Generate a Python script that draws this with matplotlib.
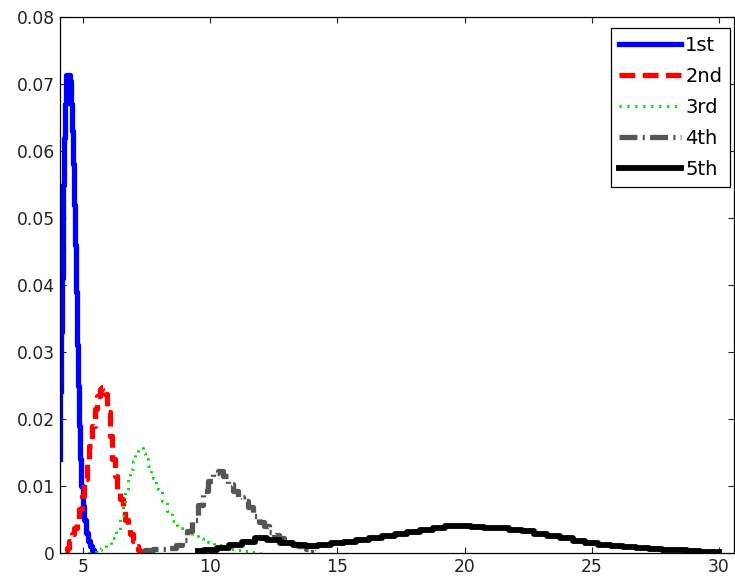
#!/usr/bin/env python3
"""Recreate the order-statistics density plot (1st..5th) in MATLAB look."""

import matplotlib

matplotlib.use("Agg")
import matplotlib.pyplot as plt

# --- data ---
x_1st = [4.09, 4.12, 4.15, 4.18, 4.21, 4.24, 4.27, 4.30, 4.34, 4.40, 4.46, 4.50,
         4.54, 4.58, 4.62, 4.66, 4.70, 4.74, 4.77, 4.80, 4.84, 4.89, 4.95, 5.01,
         5.07, 5.15, 5.23, 5.30, 5.38, 5.45]
y_1st = [0.014, 0.024, 0.033, 0.041, 0.048, 0.055, 0.062, 0.067, 0.0713, 0.0713,
         0.0713, 0.0705, 0.067, 0.063, 0.058, 0.052, 0.046, 0.039, 0.031, 0.025,
         0.019, 0.014, 0.010, 0.007, 0.005, 0.003, 0.0018, 0.001, 0.0004, 0.0]

x_2nd = [4.30, 4.40, 4.50, 4.60, 4.70, 4.80, 4.90, 5.00, 5.10, 5.20, 5.30, 5.40,
         5.50, 5.60, 5.70, 5.80, 5.90, 6.00, 6.10, 6.20, 6.30, 6.40, 6.50, 6.60,
         6.70, 6.80, 6.90, 7.00, 7.10, 7.20, 7.30, 7.40]
y_2nd = [0.0003, 0.0008, 0.0018, 0.0028, 0.0038, 0.0048, 0.0065, 0.0085, 0.011,
         0.0135, 0.016, 0.019, 0.0215, 0.0235, 0.0245, 0.0248, 0.0238, 0.021,
         0.0175, 0.014, 0.0115, 0.0095, 0.008, 0.0065, 0.005, 0.0038, 0.0028,
         0.0018, 0.001, 0.0005, 0.0002, 0.0]

x_3rd = [5.2, 5.4, 5.6, 5.8, 6.0, 6.2, 6.4, 6.5, 6.6, 6.7, 6.8, 6.9, 7.0, 7.1,
         7.2, 7.3, 7.4, 7.5, 7.6, 7.7, 7.8, 7.9, 8.0, 8.2, 8.4, 8.6, 8.8, 9.0,
         9.2, 9.4, 9.6, 9.8, 10.0, 10.3, 10.6, 10.9, 11.2, 11.5, 11.8, 12.1]
y_3rd = [0.0, 0.0002, 0.0005, 0.0008, 0.0012, 0.0022, 0.0035, 0.0055, 0.0075,
         0.0092, 0.011, 0.0125, 0.0138, 0.0148, 0.0155, 0.0157, 0.015, 0.014,
         0.013, 0.012, 0.0112, 0.0103, 0.0095, 0.0078, 0.0062, 0.0048, 0.0038,
         0.0034, 0.0030, 0.0026, 0.0023, 0.0020, 0.0017, 0.0012, 0.0009, 0.0006,
         0.0004, 0.0003, 0.0002, 0.0]

x_4th = [7.3, 7.6, 7.9, 8.2, 8.5, 8.8, 9.0, 9.2, 9.4, 9.6, 9.8, 10.0, 10.2, 10.4,
         10.6, 10.8, 11.0, 11.2, 11.4, 11.6, 11.8, 12.0, 12.2, 12.4, 12.6, 12.8,
         13.0, 13.3, 13.6, 13.9, 14.2]
y_4th = [0.0003, 0.0005, 0.0006, 0.0006, 0.0008, 0.0012, 0.002, 0.0033, 0.005,
         0.0072, 0.0092, 0.0108, 0.012, 0.0122, 0.0115, 0.0103, 0.0092, 0.0083,
         0.0078, 0.0068, 0.0055, 0.0047, 0.0040, 0.0032, 0.0027, 0.0022, 0.0018,
         0.0014, 0.0010, 0.0006, 0.0003]

x_5th = [9.5, 10.0, 10.5, 11.0, 11.5, 12.0, 12.5, 13.0, 13.5, 14.0, 14.5, 15.0,
         15.5, 16.0, 16.5, 17.0, 17.5, 18.0, 18.5, 19.0, 19.5, 20.0, 20.5, 21.0,
         21.5, 22.0, 22.5, 23.0, 23.5, 24.0, 24.5, 25.0, 25.5, 26.0, 26.5, 27.0,
         27.5, 28.0, 28.5, 29.0, 29.5, 30.0]
y_5th = [0.0003, 0.0005, 0.0008, 0.0012, 0.0017, 0.0022, 0.002, 0.0015, 0.0012,
         0.0010, 0.0012, 0.0015, 0.0016, 0.0019, 0.0022, 0.0025, 0.0029, 0.0032,
         0.0035, 0.0038, 0.0041, 0.0040, 0.0039, 0.0038, 0.0037, 0.0035, 0.0033,
         0.0028, 0.0025, 0.0022, 0.0018, 0.0015, 0.0012, 0.0010, 0.0009, 0.0007,
         0.0006, 0.0005, 0.0004, 0.0003, 0.0002, 0.0001]

labels = ["1st", "2nd", "3rd", "4th", "5th"]
x_ticks = [5, 10, 15, 20, 25, 30]
y_ticks = [0, 0.01, 0.02, 0.03, 0.04, 0.05, 0.06, 0.07, 0.08]


def main() -> None:
    plt.rcParams["font.family"] = ["DejaVu Sans"]
    fig = plt.figure(figsize=(7.35, 5.88), dpi=100)
    ax = fig.add_axes([60 / 735, 35 / 588, 674 / 735, 536 / 588])

    lw = 3.8
    ax.plot(x_1st, y_1st, color="#0000ff", lw=lw, label=labels[0],
            drawstyle="steps-mid")
    ax.plot(x_2nd, y_2nd, color="#ff0000", lw=lw, dashes=(3.0, 1.4),
            label=labels[1], drawstyle="steps-mid")
    ax.plot(x_3rd, y_3rd, color="#00e000", lw=2.2, dashes=(0.7, 1.9),
            label=labels[2], drawstyle="steps-mid")
    ax.plot(x_4th, y_4th, color="#555555", lw=lw, dashes=(3.4, 1.0, 0.4, 1.0),
            label=labels[3], drawstyle="steps-mid")
    ax.plot(x_5th, y_5th, color="#000000", lw=4.2, label=labels[4],
            drawstyle="steps-mid")

    ax.set_xlim(4.09, 30.6)
    ax.set_ylim(0, 0.08)
    ax.set_xticks(x_ticks)
    ax.set_yticks(y_ticks)
    ax.set_yticklabels(["0"] + [f"{v:.2f}" for v in y_ticks[1:]])
    ax.tick_params(direction="in", top=True, right=True, length=4, width=0.8,
                   labelsize=12.3, colors="#222222")
    for s in ax.spines.values():
        s.set_linewidth(0.9)

    leg = ax.legend(loc="upper right", bbox_to_anchor=(0.994, 0.979),
                    borderaxespad=0, fontsize=14, handlelength=3.2,
                    handletextpad=0.2, labelspacing=0.62, borderpad=0.4,
                    fancybox=False, framealpha=1)
    leg.get_frame().set_edgecolor("black")
    leg.get_frame().set_linewidth(0.9)

    fig.savefig("out.png", dpi=100)
    plt.close(fig)


if __name__ == "__main__":
    main()
